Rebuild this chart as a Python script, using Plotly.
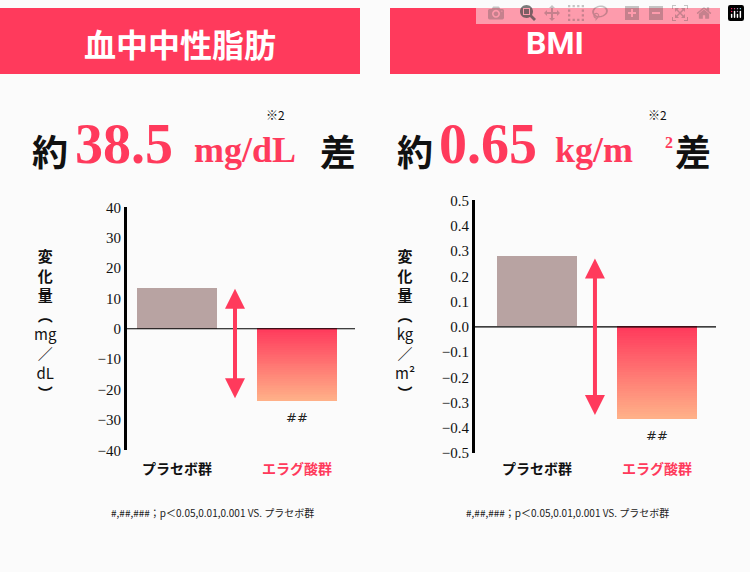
import plotly.graph_objects as go

# --- data ---
categories = ["プラセボ群", "エラグ酸群"]
tg_values = [13.5, -24.0]      # 血中中性脂肪 change (mg/dL)
bmi_values = [0.278, -0.365]   # BMI change (kg/m2)
tg_ticks = [40, 30, 20, 10, 0, -10, -20, -30, -40]
bmi_ticks = [0.5, 0.4, 0.3, 0.2, 0.1, 0.0, -0.1, -0.2, -0.3, -0.4, -0.5]

PINK = "#ff3a5c"
GREY = "#b8a3a2"
W, H = 750, 572
CJK = "Noto Sans CJK JP"
NUM = "Liberation Sans Narrow"


def px(x):
    return x / W


def py(y):
    return 1 - y / H


def lerp(c1, c2, t):
    a = [int(c1[i:i + 2], 16) for i in (1, 3, 5)]
    b = [int(c2[i:i + 2], 16) for i in (1, 3, 5)]
    return "rgb(%d,%d,%d)" % tuple(round(a[k] + (b[k] - a[k]) * t) for k in range(3))


def note(x, y, text, font, xanchor="center", yanchor="middle"):
    fig.add_annotation(xref="paper", yref="paper", x=px(x), y=py(y), text=text,
                       showarrow=False, xanchor=xanchor, yanchor=yanchor, font=font)


fig = go.Figure()

panels = [
    dict(vals=tg_values, xa="x", ya="y"),
    dict(vals=bmi_values, xa="x2", ya="y2"),
]
for p in panels:
    fig.add_trace(go.Bar(x=[0], y=[p["vals"][0]], width=0.667, marker_color=GREY,
                         marker_line_width=0, xaxis=p["xa"], yaxis=p["ya"], showlegend=False))
    # ellagic bar drawn as gradient slices of the value
    n = 40
    step = p["vals"][1] / n
    for i in range(n):
        fig.add_trace(go.Bar(x=[1], y=[step], base=[step * i], width=0.667,
                             marker_color=lerp(PINK, "#ffb088", i / (n - 1)),
                             marker_line_width=0, xaxis=p["xa"], yaxis=p["ya"], showlegend=False))

fig.update_layout(
    width=W, height=H, margin=dict(l=0, r=0, t=0, b=0),
    paper_bgcolor="#fbfbfb", plot_bgcolor="rgba(0,0,0,0)",
    barmode="overlay", bargap=0,
    xaxis=dict(domain=[px(127), px(355)], range=[-0.417, 1.483], visible=False),
    yaxis=dict(domain=[py(455), py(205)], range=[-40, 40], tickvals=tg_ticks,
               showgrid=False, zeroline=False, showline=True, linecolor="black", linewidth=3,
               ticks="", tickfont=dict(family=NUM, size=15, color="#111"), anchor="x"),
    xaxis2=dict(domain=[px(475), px(716)], range=[-0.517, 1.492], visible=False, anchor="y2"),
    yaxis2=dict(domain=[py(458), py(198)], range=[-0.5, 0.5], tickvals=bmi_ticks,
                tickformat=".1f",
                showgrid=False, zeroline=False, showline=True, linecolor="black", linewidth=3,
                ticks="", tickfont=dict(family=NUM, size=15, color="#111"), anchor="x2"),
)

# zero lines
for xa, ya in [("x", "y"), ("x2", "y2")]:
    fig.add_shape(type="line", xref=xa + " domain", yref=ya, x0=0, x1=1, y0=0, y1=0,
                  line=dict(color="black", width=1.2))

# header boxes
for x0, x1, label, fam in [(0, 360, "血中中性脂肪", CJK), (390, 720, "BMI", "Roboto")]:
    fig.add_shape(type="rect", xref="paper", yref="paper", x0=px(x0), x1=px(x1),
                  y0=py(68), y1=py(0), fillcolor=PINK, line_width=0, layer="below")
    note((x0 + x1) / 2, 36, "<b>%s</b>" % label, dict(family=fam, size=32, color="white"))

# headlines, built piece by piece
big = dict(family=CJK, size=36, color="#111")
numf = dict(family=NUM, size=56, color=PINK)
unitf = dict(family=NUM, size=36, color=PINK)
note(30, 146, "<b>約</b>", big, xanchor="left")
note(73, 140, "<b>38.5</b>", numf, xanchor="left")
note(192, 146, "<b>mg/dL</b>", unitf, xanchor="left")
note(318, 146, "<b>差</b>", big, xanchor="left")
note(275, 110, "※2", dict(family=CJK, size=12, color="#111"))

note(395, 146, "<b>約</b>", big, xanchor="left")
note(437, 140, "<b>0.65</b>", numf, xanchor="left")
note(553, 146, "<b>kg/m</b>", unitf, xanchor="left")
note(663, 138, "<b>2</b>", dict(family=NUM, size=16, color=PINK), xanchor="left")
note(673, 146, "<b>差</b>", big, xanchor="left")
note(657, 110, "※2", dict(family=CJK, size=12, color="#111"))

# double arrows
arrows = [("x", "y", 0.483, 13.2, -23.4), ("x2", "y2", 0.483, 0.27, -0.355)]
for xa, ya, xv, top, bot in arrows:
    fig.add_annotation(xref=xa, yref=ya, axref=xa, ayref=ya, x=xv, y=top, ax=xv, ay=bot,
                       text="", showarrow=True, arrowhead=2, arrowside="end+start",
                       arrowsize=1, arrowwidth=4, arrowcolor=PINK)

# ## marks
for xa, ya, v in [("x", "y", tg_values[1]), ("x2", "y2", bmi_values[1])]:
    fig.add_annotation(xref=xa, yref=ya, x=1, y=v, yshift=-16, text="##",
                       showarrow=False, xanchor="center", yanchor="middle",
                       font=dict(family="DejaVu Sans", size=13, color="#222"))

# category labels
for xa in ("x", "x2"):
    for i, c in enumerate(categories):
        fig.add_annotation(xref=xa, yref="paper", x=i, y=py(473), text="<b>%s</b>" % c,
                           showarrow=False, xanchor="center", yanchor="middle",
                           font=dict(family=CJK, size=14, color="#111" if i == 0 else PINK))

# vertical y titles
for x, unit in [(45, "mg<br>／<br>dL"), (405, "kg<br>／<br>m²")]:
    note(x, 325, "<b>変<br>化<br>量<br>︵</b><br>%s<br><b>︶</b>" % unit,
         dict(family=CJK, size=15, color="#111"))

# footnotes
for cx in (212, 567):
    note(cx, 519, "#,##,###；p＜0.05,0.01,0.001 VS. プラセボ群",
         dict(family=CJK, size=10, color="#222"))

fig.write_html("out.html", post_script="document.body.style.margin='0';")
